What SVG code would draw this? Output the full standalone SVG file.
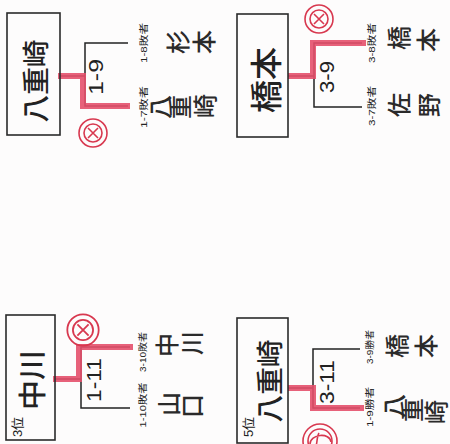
<svg xmlns="http://www.w3.org/2000/svg" width="450" height="444" viewBox="0 0 450 444">
<defs>
<style>
.bg{fill:#fdfcfc}
.box{fill:none;stroke:#2a2a2a;stroke-width:1.6}
.br{fill:none;stroke:#222;stroke-width:1.5}
.red{fill:none;stroke:#e4506c;stroke-width:6;stroke-opacity:0.9;stroke-linejoin:miter}
.mk{fill:none;stroke:#d8384f;stroke-width:1.6}
.bx{font-family:"Noto Sans CJK JP","Noto Sans CJK SC",sans-serif;font-weight:500;fill:#222;text-anchor:middle;dominant-baseline:central}
.nm{font-family:"Noto Sans CJK JP","Noto Sans CJK SC",sans-serif;font-weight:500;font-size:24px;fill:#2a2a2a;text-anchor:middle;dominant-baseline:central}
.mt{font-family:"Liberation Sans","DejaVu Sans",sans-serif;font-size:20px;fill:#222;text-anchor:middle;dominant-baseline:central}
.sm{font-family:"Liberation Sans","Noto Sans CJK JP",sans-serif;font-size:9.5px;fill:#222;text-anchor:middle;dominant-baseline:central}
.rk{font-family:"Liberation Sans","Noto Sans CJK JP",sans-serif;font-size:13px;fill:#222;text-anchor:middle;dominant-baseline:central}
</style>
<g id="cross-mark">
<circle r="14" class="mk"/>
<circle r="9" class="mk"/>
<path d="M-5,-5 L5,5 M5,-5 L-5,5" class="mk"/>
</g>
</defs>
<rect class="bg" x="0" y="0" width="450" height="444"/>

<g id="connectors">
<path class="br" d="M60,76 H85 M128,43 H85 V106 H128"/>
<path class="red" d="M58,76 H83 V106 H130"/>
<path class="br" d="M288,76 H314 M362,43 H314 V107 H362"/>
<path class="red" d="M288,76 H313 V43 H366"/>
<path class="br" d="M55,379 H81 M130,347 H81 V408 H130"/>
<path class="red" d="M53,379 H79 V347 H133"/>
<path class="br" d="M288,388 H313 M360,349 H313 V408 H360"/>
<path class="red" d="M288,388 H313 V408 H364"/>
</g>

<g id="winner-yaezaki-top">
<rect class="box" x="7" y="13" width="53" height="122"/>
<text class="bx" font-size="27" transform="translate(34,81) rotate(-90)" textLength="83" lengthAdjust="spacingAndGlyphs">八重崎</text>
</g>
<g id="match-1-9">
<text class="mt" transform="translate(96,77) rotate(-90)" textLength="36" lengthAdjust="spacingAndGlyphs">1-9</text>
<use href="#cross-mark" x="93" y="133"/>
<text class="sm" transform="translate(143,43) rotate(-90)" textLength="40" lengthAdjust="spacingAndGlyphs">1-8敗者</text>
<text class="sm" transform="translate(143,107) rotate(-90)" textLength="42" lengthAdjust="spacingAndGlyphs">1-7敗者</text>
</g>
<g id="name-sugimoto">
<text class="nm" transform="translate(176,42) rotate(-90)">杉</text>
<text class="nm" transform="translate(202,42) rotate(-90)">本</text>
</g>
<g id="name-yaezaki-1">
<text class="nm" transform="translate(158,107) rotate(-90)">八</text>
<text class="nm" transform="translate(178,107) rotate(-90)">重</text>
<text class="nm" transform="translate(203,106) rotate(-90)">崎</text>
</g>

<g id="winner-hashimoto">
<rect class="box" x="237" y="14" width="51" height="123"/>
<text class="bx" font-size="32" transform="translate(264,80) rotate(-90)" textLength="66" lengthAdjust="spacingAndGlyphs">橋本</text>
</g>
<g id="match-3-9">
<text class="mt" transform="translate(327,77) rotate(-90)" textLength="32" lengthAdjust="spacingAndGlyphs">3-9</text>
<use href="#cross-mark" x="319" y="19"/>
<text class="sm" transform="translate(371,43) rotate(-90)" textLength="40" lengthAdjust="spacingAndGlyphs">3-8敗者</text>
<text class="sm" transform="translate(371,106) rotate(-90)" textLength="40" lengthAdjust="spacingAndGlyphs">3-7敗者</text>
</g>
<g id="name-hashimoto-1">
<text class="nm" transform="translate(397,38) rotate(-90)">橋</text>
<text class="nm" transform="translate(426,40) rotate(-90)">本</text>
</g>
<g id="name-sano">
<text class="nm" transform="translate(397,105) rotate(-90)">佐</text>
<text class="nm" transform="translate(427,105) rotate(-90)">野</text>
</g>

<g id="winner-nakagawa">
<rect class="box" x="6" y="315" width="49" height="125"/>
<text class="rk" transform="translate(17,427) rotate(-90)">3位</text>
<text class="bx" font-size="28" transform="translate(31,380) rotate(-90)" textLength="60" lengthAdjust="spacingAndGlyphs">中川</text>
</g>
<g id="match-1-11">
<text class="mt" transform="translate(94,380) rotate(-90)" textLength="44" lengthAdjust="spacingAndGlyphs">1-11</text>
<use href="#cross-mark" transform="translate(83,330) scale(1.12)"/>
<text class="sm" transform="translate(142,352) rotate(-90)" textLength="40" lengthAdjust="spacingAndGlyphs">3-10敗者</text>
<text class="sm" transform="translate(142,405) rotate(-90)" textLength="45" lengthAdjust="spacingAndGlyphs">1-10敗者</text>
</g>
<g id="name-nakagawa">
<text class="nm" transform="translate(165,345) rotate(-90)">中</text>
<text class="nm" transform="translate(190,343) rotate(-90)">川</text>
</g>
<g id="name-yamaguchi">
<text class="nm" transform="translate(167,404) rotate(-90)">山</text>
<text class="nm" transform="translate(190,406) rotate(-90)">口</text>
</g>

<g id="winner-yaezaki-5th">
<rect class="box" x="237" y="318" width="51" height="125"/>
<text class="rk" transform="translate(248,427) rotate(-90)">5位</text>
<text class="bx" font-size="27" transform="translate(268,381) rotate(-90)" textLength="83" lengthAdjust="spacingAndGlyphs">八重崎</text>
</g>
<g id="match-3-11">
<text class="mt" transform="translate(327,382) rotate(-90)" textLength="44" lengthAdjust="spacingAndGlyphs">3-11</text>
<circle cx="320" cy="441" r="17" class="mk"/>
<circle cx="320" cy="441" r="12" class="mk"/>
<path class="mk" d="M310,444 C310,434 330,432 331,442 M319,433 C316,438 318,446 314,450"/>
<text class="sm" transform="translate(369,347) rotate(-90)" textLength="34" lengthAdjust="spacingAndGlyphs">3-9勝者</text>
<text class="sm" transform="translate(369,407) rotate(-90)" textLength="40" lengthAdjust="spacingAndGlyphs">1-9勝者</text>
</g>
<g id="name-hashimoto-2">
<text class="nm" transform="translate(395,346) rotate(-90)">橋</text>
<text class="nm" transform="translate(424,346) rotate(-90)">本</text>
</g>
<g id="name-yaezaki-2">
<text class="nm" transform="translate(392,406) rotate(-90)">八</text>
<text class="nm" transform="translate(410,410) rotate(-90)">重</text>
<text class="nm" transform="translate(434,412) rotate(-90)">崎</text>
</g>
</svg>
